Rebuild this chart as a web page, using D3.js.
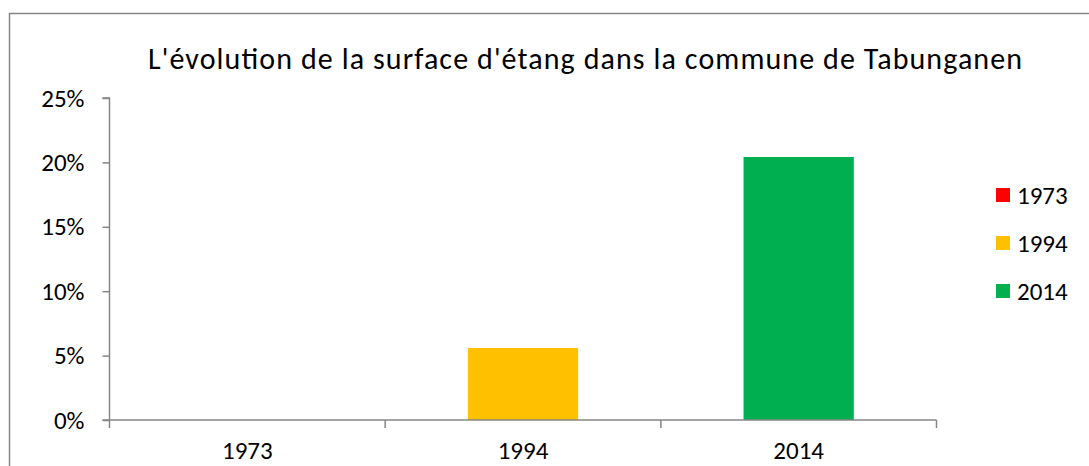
<!DOCTYPE html>
<html>
<head>
<meta charset="utf-8">
<script src="https://cdn.jsdelivr.net/npm/d3@7"></script>
<style>
  html, body { margin: 0; padding: 0; background: #fff; }
  svg { display: block; }
  text { font-family: Carlito, Lato, "Liberation Sans", sans-serif; fill: #000; }
</style>
</head>
<body>
<svg id="chart" width="1089" height="466"></svg>
<script>
// Pond surface share per year (Tabunganen)
const categories = ["1973", "1994", "2014"];
const values = [0, 0.0559, 0.2042];
const colors = ["#FF0000", "#FFC000", "#00B050"];
const yTicks = [0, 0.05, 0.10, 0.15, 0.20, 0.25];
const title = "L'évolution de la surface d'étang dans la commune de Tabunganen";

const svg = d3.select("#chart");
const axisColor = "#868686";
const labelSize = 25;

// Outer chart frame
svg.append("rect")
  .attr("x", 9.5).attr("y", 13.5)
  .attr("width", 1100).attr("height", 500)
  .attr("fill", "none").attr("stroke", axisColor).attr("stroke-width", 1.5);

const plot = { left: 109.5, right: 936.5, top: 98, bottom: 420 };

const x = d3.scaleBand().domain(categories)
  .range([plot.left, plot.right]).paddingInner(0.6).paddingOuter(0.3);
const xCat = d3.scaleBand().domain(categories).range([plot.left, plot.right]);
const y = d3.scaleLinear().domain([0, 0.25]).range([plot.bottom, plot.top]);

// Bars
svg.append("g").selectAll("rect").data(values).join("rect")
  .attr("x", (d, i) => x(categories[i]))
  .attr("y", d => y(d))
  .attr("width", x.bandwidth())
  .attr("height", d => y(0) - y(d))
  .attr("fill", (d, i) => colors[i]);

// Y axis
const yAxis = svg.append("g")
  .attr("transform", `translate(${plot.left},0)`)
  .call(d3.axisLeft(y).tickValues(yTicks).tickFormat(d3.format(".0%")).tickSize(7).tickPadding(18));
yAxis.select(".domain").attr("stroke", axisColor).attr("stroke-width", 1.5)
  .attr("d", `M-7,${plot.top}H0V${plot.bottom}`);
yAxis.selectAll(".tick line").attr("stroke", axisColor).attr("stroke-width", 1.5);
yAxis.selectAll(".tick text").attr("font-size", labelSize).attr("fill", "#000")
  .attr("font-family", "Carlito, Lato, 'Liberation Sans', sans-serif");

// X axis: ticks at category boundaries
const xAxis = svg.append("g").attr("transform", `translate(0,${plot.bottom})`);
xAxis.append("line")
  .attr("x1", plot.left - 7).attr("x2", plot.right)
  .attr("stroke", axisColor).attr("stroke-width", 1.5);
const bounds = categories.map(c => xCat(c)).concat([plot.right]);
xAxis.selectAll("line.tick").data(bounds).join("line").attr("class", "tick")
  .attr("x1", d => d).attr("x2", d => d).attr("y1", 0).attr("y2", 8)
  .attr("stroke", axisColor).attr("stroke-width", 1.5);
xAxis.selectAll("text").data(categories).join("text")
  .attr("x", d => xCat(d) + xCat.bandwidth() / 2)
  .attr("y", 39)
  .attr("text-anchor", "middle")
  .attr("font-size", labelSize)
  .text(d => d);

// Title
svg.append("text")
  .attr("x", 585).attr("y", 69)
  .attr("text-anchor", "middle")
  .attr("font-size", 30)
  .attr("textLength", 874)
  .attr("lengthAdjust", "spacing")
  .text(title);

// Legend
const legend = svg.append("g");
const rows = legend.selectAll("g").data(categories).join("g")
  .attr("transform", (d, i) => `translate(996,${195 + i * 48})`);
rows.append("rect").attr("x", 0).attr("y", -7).attr("width", 14).attr("height", 14)
  .attr("fill", (d, i) => colors[i]);
rows.append("text").attr("x", 21).attr("y", 9).attr("font-size", labelSize).text(d => d);
</script>
</body>
</html>
